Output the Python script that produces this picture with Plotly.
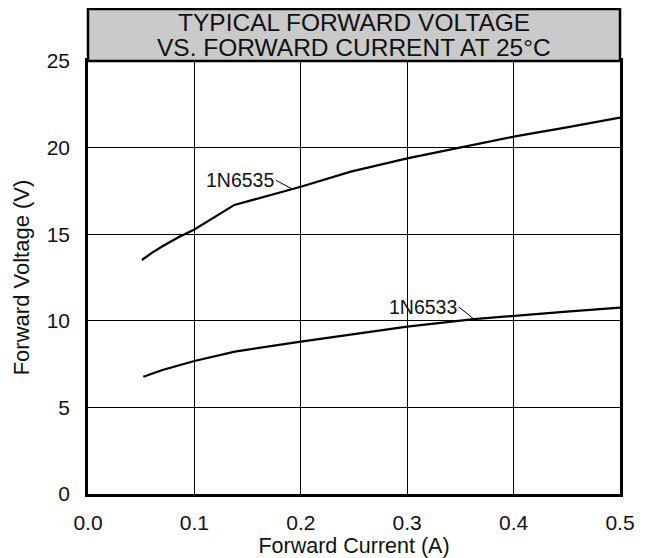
import plotly.graph_objects as go

current_6535 = [0.0506, 0.06, 0.07, 0.085, 0.10, 0.1376, 0.20, 0.247, 0.30, 0.35, 0.40, 0.45, 0.50]
voltage_6535 = [13.51, 13.92, 14.3, 14.82, 15.27, 16.69, 17.74, 18.61, 19.38, 20.0, 20.63, 21.17, 21.73]

current_6533 = [0.052, 0.07, 0.10, 0.138, 0.20, 0.25, 0.30, 0.3627, 0.40, 0.45, 0.50]
voltage_6533 = [6.77, 7.16, 7.68, 8.22, 8.80, 9.23, 9.66, 10.10, 10.30, 10.53, 10.76]

x_ticks = [0.0, 0.1, 0.2, 0.3, 0.4, 0.5]
y_ticks = [0, 5, 10, 15, 20, 25]

title_lines = ["TYPICAL FORWARD VOLTAGE", "VS. FORWARD CURRENT AT 25°C"]

FONT = "Liberation Sans, Arial, sans-serif"
TXT = "#111111"

fig = go.Figure()
fig.add_trace(go.Scatter(x=current_6535, y=voltage_6535, mode="lines",
                         line=dict(color="black", width=2.2), name="1N6535"))
fig.add_trace(go.Scatter(x=current_6533, y=voltage_6533, mode="lines",
                         line=dict(color="black", width=2.2), name="1N6533"))

plot_h = 558 - 53 - 72

fig.add_shape(type="rect", xref="paper", yref="paper", x0=0, x1=1, y0=1, y1=1 + 52 / plot_h,
              fillcolor="#cacaca", line=dict(color="black", width=2.5), layer="above")
fig.add_annotation(xref="paper", yref="paper", x=0.5, y=1 + 39 / plot_h,
                   text=title_lines[0], showarrow=False,
                   font=dict(family=FONT, size=24.5, color=TXT),
                   xanchor="center", yanchor="middle")
fig.add_annotation(xref="paper", yref="paper", x=0.5, y=1 + 13.5 / plot_h,
                   text=title_lines[1], showarrow=False,
                   font=dict(family=FONT, size=24.5, color=TXT),
                   xanchor="center", yanchor="middle")

fig.add_annotation(x=0.1926, y=17.59, text="1N6535", showarrow=True, arrowhead=0,
                   arrowwidth=1, arrowcolor="black", ax=-17, ay=-9, xanchor="right",
                   yanchor="middle", font=dict(family=FONT, size=19.5, color=TXT))
fig.add_annotation(x=0.3627, y=10.10, text="1N6533", showarrow=True, arrowhead=0,
                   arrowwidth=1, arrowcolor="black", ax=-15, ay=-12, xanchor="right",
                   yanchor="middle", font=dict(family=FONT, size=19.5, color=TXT))

fig.update_layout(
    width=651, height=558,
    margin=dict(l=78, r=39, t=53, b=72),
    paper_bgcolor="white", plot_bgcolor="white",
    showlegend=False,
    font=dict(family=FONT, size=21, color=TXT),
)
fig.update_xaxes(range=[0, 0.5], tickvals=x_ticks, ticktext=[f"{v:.1f}" for v in x_ticks],
                 showgrid=True, gridcolor="black", gridwidth=1,
                 showline=True, linecolor="black", linewidth=2.5, mirror=True,
                 zeroline=False, ticks="", ticklabelstandoff=8,
                 tickfont=dict(size=21),
                 title=dict(text="Forward Current (A)", standoff=0, font=dict(size=21.5)))
fig.update_yaxes(range=[0, 25], tickvals=y_ticks, ticktext=[str(v) for v in y_ticks],
                 showgrid=True, gridcolor="black", gridwidth=1,
                 showline=True, linecolor="black", linewidth=2.5, mirror=True,
                 zeroline=False, ticks="", ticklabelstandoff=11,
                 tickfont=dict(size=21),
                 title=dict(text="Forward Voltage (V)", standoff=11, font=dict(size=22)))

fig.write_html("out.html")
